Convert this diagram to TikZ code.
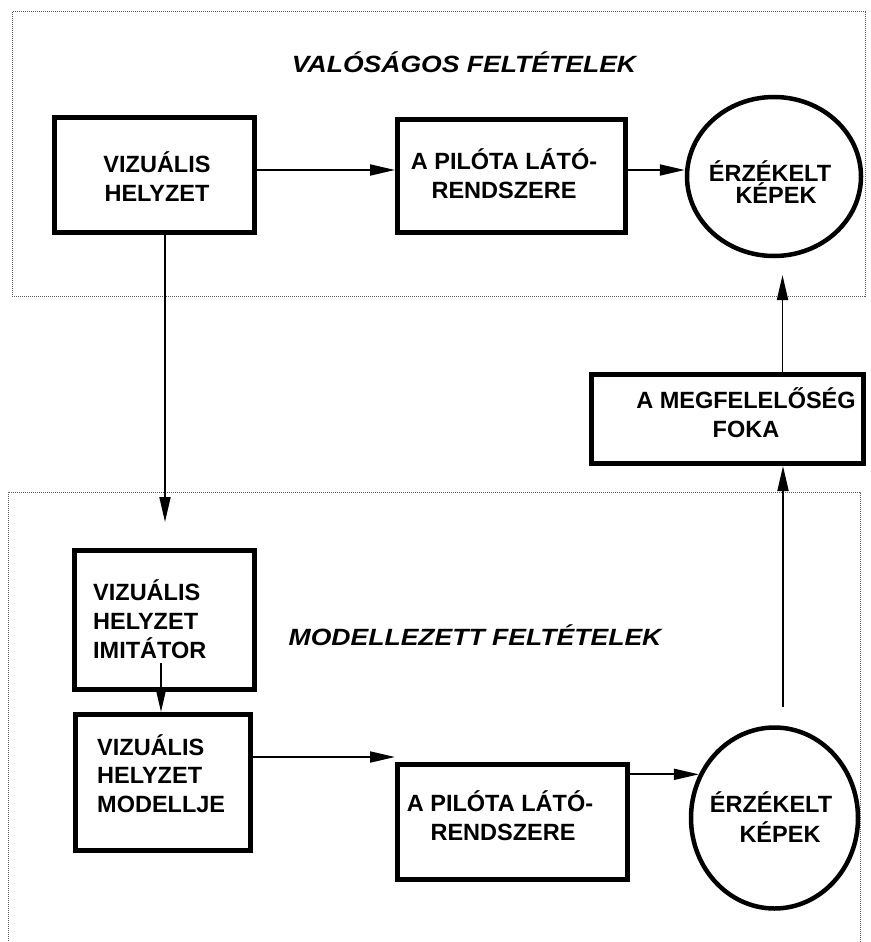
\documentclass[tikz,border=0pt]{standalone}
\usepackage{fontspec}
\setmainfont{Liberation Sans}
\usetikzlibrary{arrows.meta,shapes.geometric}
\begin{document}
\begin{tikzpicture}[x=1pt,y=-1pt,
  blk/.style={draw, line width=5pt, rectangle, inner sep=0pt},
  oval/.style={draw, line width=4.5pt, ellipse, inner sep=0pt},
  lbl/.style={font=\fontsize{23.5}{28.5}\selectfont\bfseries, inner sep=0pt},
  ttl/.style={font=\fontsize{23.5}{28.5}\selectfont\bfseries\itshape, inner sep=0pt},
  arr/.style={line width=1.9pt, -{Triangle[length=25pt,width=11pt]}},
  frame/.style={draw=black!65, line width=1pt, dash pattern=on 1pt off 1pt}]
\fill[white] (0,0) rectangle (870,942);
\useasboundingbox (0,0) rectangle (870,942);
% frames
\draw[frame] (12,12) rectangle (865,296);
\draw[frame] (8,945) -- (8,492) -- (860,492) -- (860,945);
% titles
\node[ttl, anchor=base] (t1) at (464,73) {\scalebox{1.13}[1]{VALÓSÁGOS FELTÉTELEK}};
\node[ttl, anchor=base] (t2) at (475,645) {\scalebox{1.13}[1]{MODELLEZETT FELTÉTELEK}};
% boxes
\node[blk, minimum width=200pt, minimum height=115pt] (vh) at (154.5,175) {};
\node[blk, minimum width=228pt, minimum height=113pt] (pl1) at (511.5,176) {};
\node[oval, minimum width=174pt, minimum height=159pt] (c1) at (774,176.5) {};
\node[blk, minimum width=272pt, minimum height=89pt] (meg) at (727.5,419) {};
\node[blk, minimum width=180pt, minimum height=139pt] (imi) at (164.5,620) {};
\node[blk, minimum width=175pt, minimum height=136pt] (mod) at (163,782.5) {};
\node[blk, minimum width=230pt, minimum height=115pt] (pl2) at (512.5,822) {};
\node[oval, minimum width=167pt, minimum height=181pt] (c2) at (774.5,818) {};
% texts (anchor base = baseline of last line)
\node[lbl, align=center, anchor=base] (tvh) at (157,201) {VIZUÁLIS\\HELYZET};
\node[lbl, align=center, anchor=base] (tpl1) at (504,198) {A PILÓTA LÁTÓ-\\RENDSZERE};
\node[lbl, align=center, anchor=base, font=\fontsize{23.5}{21.5}\selectfont\bfseries] (tc1) at (770,203) {ÉRZÉKELT\\\hspace*{12pt}KÉPEK};
\node[lbl, align=center, anchor=base] (tmeg) at (746,437) {A MEGFELELŐSÉG\\FOKA};
\node[lbl, align=left, anchor=base west, font=\fontsize{23.5}{29}\selectfont\bfseries] (timi) at (93,658) {VIZUÁLIS\\HELYZET\\IMITÁTOR};
\node[lbl, align=left, anchor=base west] (tmod) at (97,812) {VIZUÁLIS\\HELYZET\\MODELLJE};
\node[lbl, align=center, anchor=base] (tpl2) at (500,840) {A PILÓTA LÁTÓ-\\\hspace*{6pt}RENDSZERE};
\node[lbl, align=center, anchor=base, font=\fontsize{23.5}{30}\selectfont\bfseries] (tc2) at (771,842) {ÉRZÉKELT\\\hspace*{18pt}KÉPEK};
% free ends
\coordinate (a3e) at (165,522);
\coordinate (a4s) at (161,663);
\coordinate (a5s) at (248,757);
\coordinate (a7s) at (783,707);
\coordinate (a8e) at (782.5,275);
% connectors
\draw[arr] ([yshift=5pt]vh.east) -- ([yshift=5pt]vh.east -| pl1.west);
\draw[arr] ([yshift=6pt]pl1.east) -- ([yshift=6pt]pl1.east -| c1.west);
\draw[arr] ([xshift=10.5pt]vh.south) -- (a3e);
\draw[arr] (a4s) -- (a4s |- mod.north);
\draw[arr] (a5s) -- (a5s -| pl2.west);
\draw[arr] (pl2.east |- c2.150) -- (c2.150);
\draw[arr] (a7s) -- (a7s |- meg.south);
\draw[arr] ([xshift=55pt]meg.north) -- (a8e);
\end{tikzpicture}
\end{document}
